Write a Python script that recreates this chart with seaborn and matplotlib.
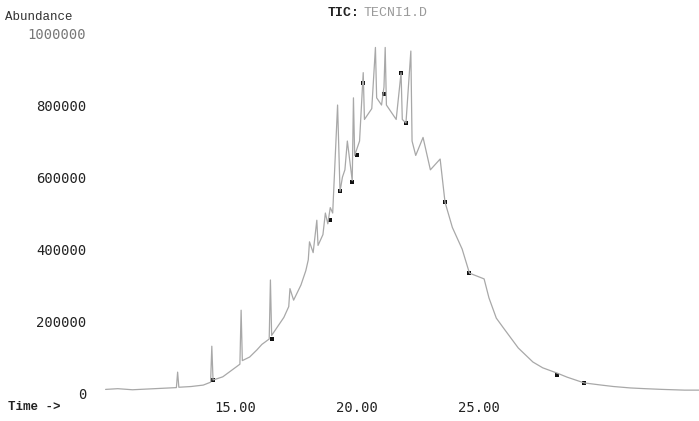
import numpy as np
import pandas as pd
import matplotlib
matplotlib.use("Agg")
import matplotlib.pyplot as plt
import seaborn as sns

# total ion chromatogram
time_min = [9.7, 10.2, 10.8, 11.4, 12.0, 12.6, 12.65, 12.7, 13.2, 13.7, 14.0, 14.05, 14.1,
            14.5, 14.8, 15.0, 15.2, 15.25, 15.3, 15.6, 15.9, 16.1, 16.4, 16.45, 16.5, 16.8,
            17.0, 17.2, 17.25, 17.4, 17.7, 17.9, 18.0, 18.05, 18.2, 18.35, 18.4, 18.6, 18.7,
            18.8, 18.9, 19.0, 19.2, 19.3, 19.4, 19.5, 19.6, 19.8, 19.85, 19.9, 20.0, 20.1,
            20.25, 20.3, 20.5, 20.6, 20.75, 20.8, 21.0, 21.1, 21.15, 21.2, 21.4, 21.6, 21.8,
            21.85, 22.0, 22.2, 22.25, 22.4, 22.7, 23.0, 23.4, 23.6, 23.9, 24.3, 24.6, 25.2,
            25.4, 25.7, 26.0, 26.6, 27.2, 27.6, 28.2, 28.6, 29.3, 30.0, 30.5, 31.2, 31.8,
            32.5, 33.4, 34.0]
abundance = [10000, 12000, 9000, 11000, 13000, 15000, 58000, 16000, 18000, 22000, 30000, 130000, 36000,
             45000, 60000, 70000, 80000, 230000, 90000, 100000, 120000, 135000, 150000, 314000, 160000, 190000,
             210000, 240000, 290000, 258000, 300000, 340000, 370000, 420000, 390000, 480000, 410000, 440000, 500000,
             470000, 515000, 500000, 800000, 560000, 600000, 620000, 700000, 590000, 820000, 660000, 680000, 700000,
             890000, 760000, 780000, 790000, 960000, 820000, 800000, 850000, 960000, 800000, 780000, 760000, 890000,
             760000, 750000, 950000, 700000, 660000, 710000, 620000, 650000, 530000, 460000, 400000, 333000, 317000,
             264000, 208000, 180000, 125000, 86000, 70000, 55000, 44000, 28000, 22000, 18000, 14000, 12000,
             10000, 8000, 8000]

# darker blobs in the scan
dark_t = [14.1, 16.5, 18.9, 19.3, 19.8, 20.0, 20.25, 21.1, 21.8, 22.0, 23.6, 24.6, 28.2, 29.3]
dark_ab = [36000, 150000, 480000, 560000, 585000, 660000, 860000, 830000, 890000, 750000, 530000, 333000, 50000, 28000]

y_ticks = [0, 200000, 400000, 600000, 800000, 1000000]
x_ticks = [15, 20, 25]

df = pd.DataFrame({"time": time_min, "abundance": abundance})
dark_df = pd.DataFrame({"time": dark_t, "abundance": dark_ab})

sns.set_theme(style="white")

fig = plt.figure(figsize=(6.99, 4.21), dpi=100)
ax = fig.add_axes([0.150, 0.0665, 0.850, 0.855])

sns.lineplot(data=df, x="time", y="abundance", ax=ax, color="#a8a8a8", linewidth=0.9)
sns.scatterplot(data=dark_df, x="time", y="abundance", ax=ax, color="#111111", s=9,
                marker="s", linewidth=0)

ax.set_xlim(9.67, 34.0)
ax.set_ylim(0, 1000000)
ax.set_xticks(x_ticks)
ax.set_xticklabels([f"{t:.2f}" for t in x_ticks])
ax.set_yticks(y_ticks)
ax.set_yticklabels([str(v) for v in y_ticks])
ax.set_xlabel("")
ax.set_ylabel("")
for s in ax.spines.values():
    s.set_visible(False)
ax.tick_params(axis="y", length=0, pad=13.5, labelsize=10, labelcolor="#222222")
ax.tick_params(axis="x", length=0, pad=6, labelsize=10, labelcolor="#222222")
for lab in ax.get_xticklabels() + ax.get_yticklabels():
    lab.set_family("DejaVu Sans Mono")
ax.get_yticklabels()[-1].set_color("#777777")

fig.text(5 / 699, 1 - 17 / 421, "Abundance", family="Liberation Mono", fontsize=9,
         color="#333333", va="center", ha="left")
fig.text(8 / 699, 1 - 407 / 421, "Time ->", family="Liberation Mono", fontsize=9,
         color="#222222", va="center", ha="left", fontweight="bold")
fig.text(328 / 699, 1 - 13 / 421, "TIC:", family="Liberation Mono", fontsize=9.5,
         color="#222222", va="center", ha="left", fontweight="bold")
fig.text(363 / 699, 1 - 13 / 421, "TECNI1.D", family="Liberation Mono", fontsize=9.5,
         color="#9a9a9a", va="center", ha="left")

fig.savefig("out.png", dpi=100, facecolor="white")
